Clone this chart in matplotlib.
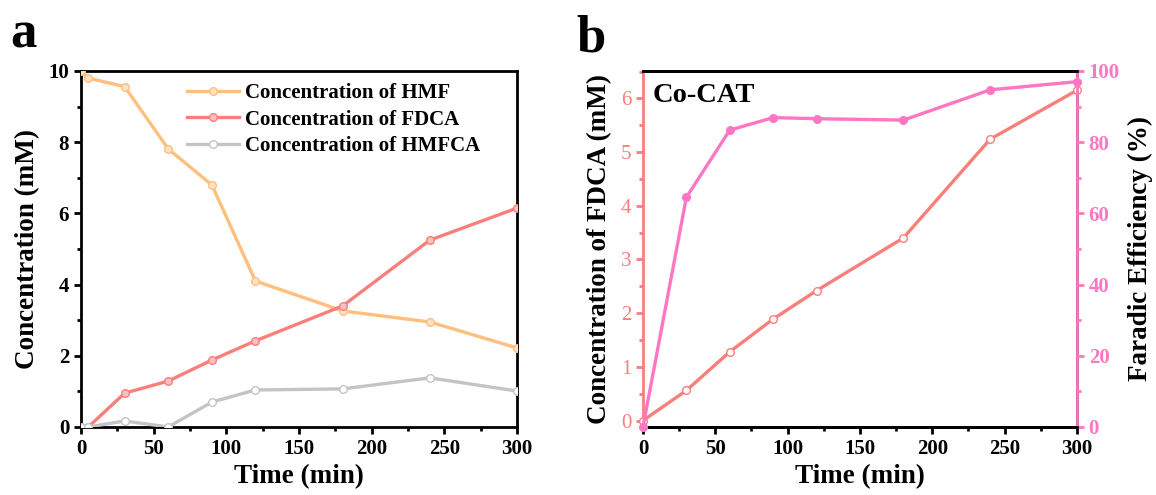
import matplotlib
matplotlib.use("Agg")
import matplotlib.pyplot as plt
from matplotlib.ticker import MultipleLocator

plt.rcParams['font.family'] = ['Liberation Serif', 'DejaVu Serif']
plt.rcParams['font.weight'] = 'bold'

# ---- data panel a ----
time_a = [0, 5, 30, 60, 90, 120, 180, 240, 300]
hmf = [10.0, 9.8, 9.56, 7.81, 6.8, 4.1, 3.26, 2.95, 2.22]
fdca_a = [0.0, 0.0, 0.95, 1.29, 1.88, 2.42, 3.4, 5.25, 6.15]
hmfca = [0.0, 0.0, 0.17, 0.0, 0.7, 1.04, 1.07, 1.38, 1.01]

# ---- data panel b ----
time_b = [0, 30, 60, 90, 120, 180, 240, 300]
fdca_b = [0.0, 0.56, 1.28, 1.89, 2.42, 3.40, 5.24, 6.15]
fe_b = [0.0, 64.5, 83.4, 86.9, 86.6, 86.2, 94.7, 97.0]

c_hmf = '#FFBF7F'
c_fdca = '#F97F7B'
c_hmfca = '#C4C4C4'
c_fe = '#FF77C3'

TICK = 15
LAB = 19.5

fig = plt.figure(figsize=(11.56, 4.95), dpi=100)
axa = fig.add_axes([0.0701, 0.1374, 0.3772, 0.7192])
axb = fig.add_axes([0.5562, 0.1374, 0.3754, 0.7192])

lw = 2.4
ms = 5.5
axa.plot(time_a, hmf, '-o', color=c_hmf, lw=lw, ms=ms, mfc='#FFE2C4', mec=c_hmf, mew=1, label='Concentration of HMF', zorder=3)
axa.plot(time_a, fdca_a, '-o', color=c_fdca, lw=lw, ms=ms, mfc='#FBC1C0', mec=c_fdca, mew=1, label='Concentration of FDCA', zorder=3)
axa.plot(time_a, hmfca, '-o', color=c_hmfca, lw=lw, ms=ms, mfc='white', mec=c_hmfca, mew=1, label='Concentration of HMFCA', zorder=3)

axa.set_xlim(0, 300)
axa.set_ylim(0, 10)
axa.xaxis.set_major_locator(MultipleLocator(50))
axa.xaxis.set_minor_locator(MultipleLocator(25))
axa.yaxis.set_major_locator(MultipleLocator(2))
axa.yaxis.set_minor_locator(MultipleLocator(1))
axa.tick_params(which='both', direction='out', width=2, labelsize=TICK, top=False, right=False)
axa.tick_params(which='major', length=5)
axa.tick_params(which='minor', length=3)
for s in axa.spines.values():
    s.set_linewidth(2)
axa.set_xlabel('Time (min)', fontsize=LAB, fontweight='bold', labelpad=4)
axa.set_ylabel('Concentration (mM)', fontsize=LAB, fontweight='bold', labelpad=6)
for lab in axa.get_xticklabels() + axa.get_yticklabels():
    lab.set_fontweight('bold')
leg = axa.legend(loc='upper right', frameon=False, fontsize=15, handlelength=2.5,
                 borderaxespad=0.2, labelspacing=0.3, handletextpad=0.3,
                 bbox_to_anchor=(0.945, 1.0))
for t in leg.get_texts():
    t.set_fontweight('bold')

# ---- panel b ----
axb.plot(time_b, fdca_b, '-o', color=c_fdca, lw=lw, ms=ms, mfc='white', mec=c_fdca, mew=1, zorder=3, clip_on=False)
axb.set_xlim(0, 300)
axb.set_ylim(-0.12, 6.51)
axb.xaxis.set_major_locator(MultipleLocator(50))
axb.xaxis.set_minor_locator(MultipleLocator(25))
axb.yaxis.set_major_locator(MultipleLocator(1))
axb.yaxis.set_minor_locator(MultipleLocator(0.5))
axb.tick_params(which='both', direction='out', width=2, labelsize=TICK, top=False, right=False)
axb.tick_params(which='major', length=5)
axb.tick_params(which='minor', length=3)
axb.tick_params(axis='y', which='both', colors=c_fdca)
for s in axb.spines.values():
    s.set_linewidth(2)
axb.spines['left'].set_color(c_fdca)
axb.set_xlabel('Time (min)', fontsize=LAB, fontweight='bold', labelpad=4)
axb.set_ylabel('Concentration of FDCA (mM)', fontsize=LAB, fontweight='bold', labelpad=6)
for lab in axb.get_xticklabels():
    lab.set_fontweight('bold')
for lab in axb.get_yticklabels():
    lab.set_fontweight('normal')
axb.text(0.023, 0.93, 'Co-CAT', transform=axb.transAxes, fontsize=20.5, fontweight='bold', va='center', ha='left')

axr = axb.twinx()
axr.plot(time_b, fe_b, '-o', color=c_fe, lw=lw, ms=ms, mfc=c_fe, mec=c_fe, zorder=3, clip_on=False)
axr.set_ylim(0, 100)
axr.yaxis.set_major_locator(MultipleLocator(20))
axr.yaxis.set_minor_locator(MultipleLocator(10))
axr.tick_params(axis='y', which='both', direction='out', width=2, labelsize=TICK, colors=c_fe)
axr.tick_params(which='major', length=5)
axr.tick_params(which='minor', length=3)
for s in axr.spines.values():
    s.set_linewidth(2)
axr.spines['right'].set_color(c_fe)
axr.spines['left'].set_visible(False)
axr.set_ylabel('Faradic Efficiency (%)', fontsize=LAB, fontweight='bold', labelpad=6)
for lab in axr.get_yticklabels():
    lab.set_fontweight('bold')

fig.text(0.009, 0.905, 'a', fontsize=38, fontweight='bold')
fig.text(0.499, 0.895, 'b', fontsize=38, fontweight='bold')

fig.savefig('out.png', dpi=100)
